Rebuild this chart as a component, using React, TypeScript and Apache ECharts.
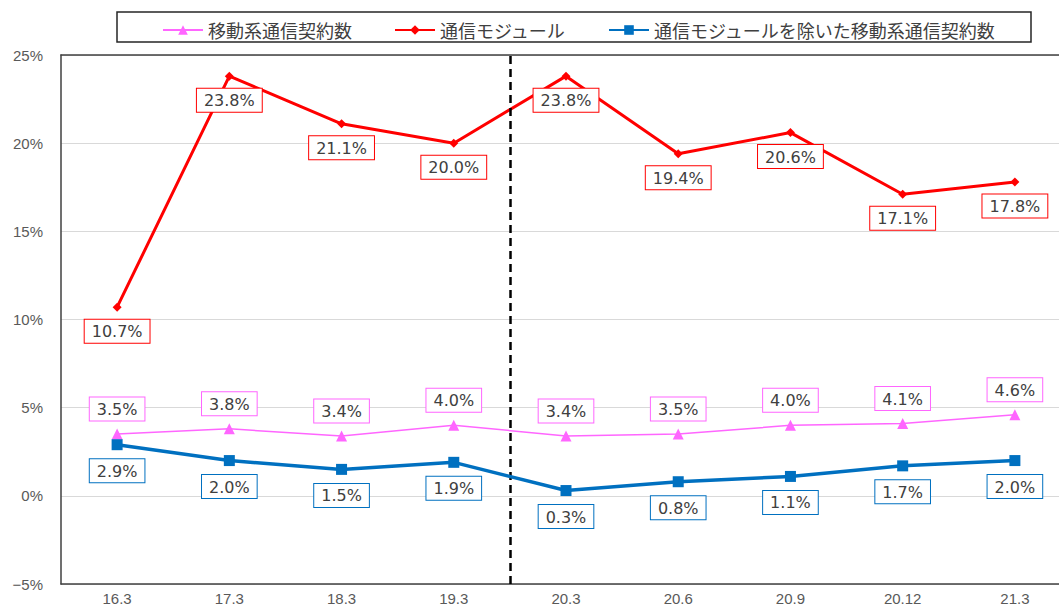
import React, { useEffect, useRef } from "react";
import * as echarts from "echarts";

const categories = ["16.3", "17.3", "18.3", "19.3", "20.3", "20.6", "20.9", "20.12", "21.3"];
const mobileTotal = [3.5, 3.8, 3.4, 4.0, 3.4, 3.5, 4.0, 4.1, 4.6];
const commModule = [10.7, 23.8, 21.1, 20.0, 23.8, 19.4, 20.6, 17.1, 17.8];
const excludingModule = [2.9, 2.0, 1.5, 1.9, 0.3, 0.8, 1.1, 1.7, 2.0];
const seriesNames = ["移動系通信契約数", "通信モジュール", "通信モジュールを除いた移動系通信契約数"];
const dividerAfterIndex = 4; // boundary between 19.3 and 20.3

const PINK = "#ff66ff";
const RED = "#ff0000";
const BLUE = "#0070c0";
const TEXT = "#404040";
const AXIS_TEXT = "#595959";
const LABEL_FONT = "DejaVu Sans";
const AXIS_FONT = "Liberation Sans";
const CJK_FONT = "Noto Sans CJK JP";

const fmt = (p: any) => `${Number(p.value).toFixed(1)}%`;

const mkLabel = (color: string, position: string, distance: number) => ({
  show: true,
  position,
  distance,
  formatter: fmt,
  backgroundColor: "#ffffff",
  borderColor: color,
  borderWidth: 1,
  padding: [4, 7, 3, 7],
  color: TEXT,
  fontSize: 16,
  fontFamily: LABEL_FONT,
});

export default function App() {
  const ref = useRef<HTMLDivElement>(null);
  useEffect(() => {
    if (!ref.current) return;
    const chart = echarts.init(ref.current, undefined, { renderer: "svg" });
    chart.setOption({
      animation: false,
      backgroundColor: "#ffffff",
      graphic: [
        {
          type: "rect",
          shape: { x: 117, y: 12, width: 914, height: 30 },
          style: { fill: "none", stroke: "#262626", lineWidth: 1.5 },
          z: 10,
        },
      ],
      legend: {
        left: 157,
        top: 16,
        itemWidth: 40,
        itemHeight: 12,
        itemGap: 42,
        data: seriesNames,
        textStyle: { fontFamily: CJK_FONT, fontSize: 18, color: TEXT },
      },
      grid: { left: 61, top: 55, width: 1010, height: 529 },
      xAxis: [
        {
          type: "category",
          data: categories,
          boundaryGap: true,
          axisLine: { show: true, onZero: false, lineStyle: { color: TEXT, width: 1.5 } },
          axisTick: { show: false },
          axisLabel: { color: AXIS_TEXT, fontSize: 15, fontFamily: AXIS_FONT, margin: 7 },
          splitLine: { show: false },
        },
        {
          type: "category",
          data: categories,
          position: "top",
          axisLine: { show: true, onZero: false, lineStyle: { color: TEXT, width: 1.5 } },
          axisTick: { show: false },
          axisLabel: { show: false },
        },
        {
          type: "value",
          min: 0,
          max: categories.length,
          show: false,
        },
      ],
      yAxis: {
        type: "value",
        min: -5,
        max: 25,
        interval: 5,
        axisLine: { show: true, onZero: false, lineStyle: { color: TEXT, width: 1.5 } },
        axisTick: { show: false },
        axisLabel: {
          color: AXIS_TEXT,
          fontSize: 15,
          fontFamily: AXIS_FONT,
          margin: 18,
          formatter: (v: number) => (v < 0 ? `\u2212${Math.abs(v)}%` : `${v}%`),
        },
        splitLine: { lineStyle: { color: "#d9d9d9", width: 1 } },
      },
      series: [
        {
          name: seriesNames[0],
          type: "line",
          data: mobileTotal,
          symbol: "triangle",
          symbolSize: 11,
          itemStyle: { color: PINK },
          lineStyle: { color: PINK, width: 1.5 },
          label: mkLabel(PINK, "top", 8),
          z: 3,
        },
        {
          name: seriesNames[1],
          type: "line",
          data: commModule,
          symbol: "diamond",
          symbolSize: 9,
          itemStyle: { color: RED },
          lineStyle: { color: RED, width: 3 },
          label: mkLabel(RED, "bottom", 8),
          z: 4,
        },
        {
          name: seriesNames[2],
          type: "line",
          data: excludingModule,
          symbol: "rect",
          symbolSize: 11,
          itemStyle: { color: BLUE },
          lineStyle: { color: BLUE, width: 3.5 },
          label: mkLabel(BLUE, "bottom", 9),
          z: 5,
        },
        {
          name: "divider",
          type: "line",
          xAxisIndex: 2,
          data: [],
          markLine: {
            silent: true,
            symbol: "none",
            label: { show: false },
            lineStyle: { color: "#000000", type: [8, 5], width: 2.5 },
            data: [{ xAxis: dividerAfterIndex }],
          },
        },
      ],
    });
    return () => chart.dispose();
  }, []);
  return (
    <div style={{ position: "absolute", left: 0, top: 0, width: 1059, height: 607, overflow: "hidden" }}>
      <div ref={ref} style={{ width: 1080, height: 607 }} />
    </div>
  );
}
